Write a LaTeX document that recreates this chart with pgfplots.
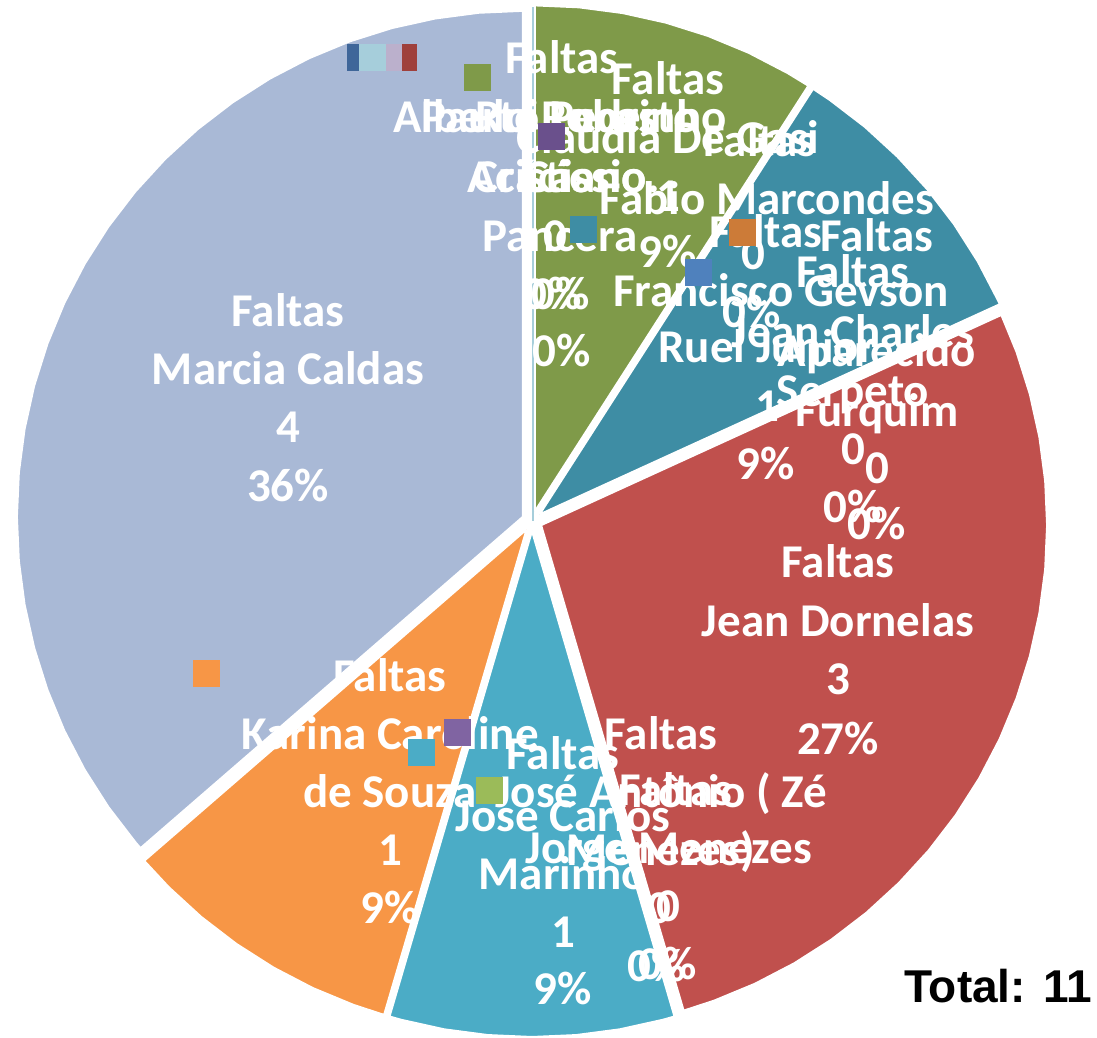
\documentclass[border=0pt]{standalone}
\usepackage{pgfplots}
\pgfplotsset{compat=1.18}
\usepackage{fontspec}
\setmainfont{Carlito}
\newfontfamily\arialfont{Liberation Sans}
\definecolor{lav}{HTML}{A9B9D6}
\definecolor{grn}{HTML}{7F9A49}
\definecolor{tea}{HTML}{3E8DA4}
\definecolor{red1}{HTML}{C0504D}
\definecolor{cya}{HTML}{4BACC6}
\definecolor{ora}{HTML}{F79646}
\definecolor{kDB}{HTML}{3F6699}
\definecolor{kLB}{HTML}{A6CEDB}
\definecolor{kLP}{HTML}{BBB0CC}
\definecolor{kRD}{HTML}{9F403C}
\definecolor{kPU}{HTML}{6A508C}
\definecolor{kDO}{HTML}{CC7B38}
\definecolor{kBL}{HTML}{4F81BD}
\definecolor{kP2}{HTML}{8064A2}
\definecolor{kLI}{HTML}{9BBB59}
\tikzset{lbl/.style={text=white,font=\bfseries\fontsize{23.5}{28}\selectfont,inner sep=0pt,anchor=base}}
\newcommand{\T}[3]{\node[lbl] at (axis cs:#1,#2) {#3};}
\newcommand{\TW}[3]{\node[lbl,anchor=base west] at (axis cs:#1,#2) {#3};}
\newcommand{\TE}[3]{\node[lbl,anchor=base east] at (axis cs:#1,#2) {#3};}
\newcommand{\key}[3]{\addplot[only marks,color=#1,mark=square*,mark size=6.5pt,mark options={solid,draw=#1,fill=#1,line width=0.5pt}] coordinates {(#2,#3)};}
% Faltas: Claudia De Gasi 1, Ruel Junior 1, Jean Dornelas 3, Jose Carlos Marinho 1,
% Karina Caroline de Souza 1, Marcia Caldas 4 (others 0); total 11 -> 32.727 deg per unit
\begin{document}
\begin{tikzpicture}
\begin{axis}[x=0.5pt,y=0.5pt,xmin=-532,xmax=565,ymin=-517,ymax=521,hide axis,clip=false]
\addplot[draw=none,forget plot] coordinates {(-532,-517) (565,521)};
% green (Claudia De Gasi, 1)
\addplot[data cs=polar,fill=grn,draw=white,line width=1pt,xshift=1.41pt,yshift=4.80pt] coordinates {(0,0) (90,506) (85,506) (80,506) (75,506) (70,506) (65,506) (60,506) (57.27,506) (0,0)};
% teal (Ruel Junior, 1)
\addplot[data cs=polar,fill=tea,draw=white,line width=1pt,xshift=3.78pt,yshift=3.27pt] coordinates {(0,0) (57.27,506) (55,506) (50,506) (45,506) (40,506) (35,506) (30,506) (25,506) (24.55,506) (0,0)};
% red (Jean Dornelas, 3)
\addplot[data cs=polar,fill=red1,draw=white,line width=1pt,xshift=4.55pt,yshift=-2.08pt] coordinates {(0,0) (24.55,506) (20,506) (15,506) (10,506) (5,506) (0,506) (-5,506) (-10,506) (-15,506) (-20,506) (-25,506) (-30,506) (-35,506) (-40,506) (-45,506) (-50,506) (-55,506) (-60,506) (-65,506) (-70,506) (-73.64,506) (0,0)};
% cyan (Jose Carlos Marinho, 1)
\addplot[data cs=polar,fill=cya,draw=white,line width=1pt,yshift=-5pt] coordinates {(0,0) (-73.64,506) (-75,506) (-80,506) (-85,506) (-90,506) (-95,506) (-100,506) (-105,506) (-106.36,506) (0,0)};
% orange (Karina Caroline de Souza, 1)
\addplot[data cs=polar,fill=ora,draw=white,line width=1pt,xshift=-2.70pt,yshift=-4.21pt] coordinates {(0,0) (-106.36,506) (-110,506) (-115,506) (-120,506) (-125,506) (-130,506) (-135,506) (-139.09,506) (0,0)};
% lavender (Marcia Caldas, 4)
\addplot[data cs=polar,fill=lav,draw=white,line width=1pt,xshift=-4.55pt,yshift=2.08pt] coordinates {(0,0) (-139.09,506) (-140,506) (-145,506) (-150,506) (-155,506) (-160,506) (-165,506) (-170,506) (-175,506) (-180,506) (-185,506) (-190,506) (-195,506) (-200,506) (-205,506) (-210,506) (-215,506) (-220,506) (-225,506) (-230,506) (-235,506) (-240,506) (-245,506) (-250,506) (-255,506) (-260,506) (-265,506) (-270,506) (0,0)};
% zero-value slice line at the top
\addplot[color=kLB,line width=0.6pt] coordinates {(1,0) (1,514)};
% main labels
\T{-244}{194}{Faltas} \T{-244}{136}{Marcia Caldas} \T{-244}{78}{4} \T{-244}{19}{36\%}
\T{306}{-57}{Faltas} \T{306}{-116}{Jean Dornelas} \T{306}{-174}{3} \T{306}{-234}{27\%}
\T{-142}{-171}{Faltas} \T{-142}{-229}{Karina Caroline} \T{-142}{-287}{de Souza} \T{-142}{-345}{1} \T{-142}{-403}{9\%}
\T{31}{-249}{Faltas} \T{31}{-311}{Jose Carlos} \T{31}{-369}{Marinho} \T{31}{-427}{1} \T{31}{-484}{9\%}
\T{136}{426}{Faltas} \T{136}{367}{Claudia De Gasi} \T{136}{309}{1} \T{136}{253}{9\%}
% teal area
\T{228}{364}{Faltas} \T{235}{306}{Fabio Marcondes} \T{221}{251}{0} \T{220}{193}{0\%}
\T{234}{273}{Faltas} \T{249}{214}{Francisco Gevson} \T{235}{158}{Ruel Junior} \T{235}{99}{1} \T{234}{41}{9\%}
\T{321}{233}{Faltas} \T{321}{173}{Jean Charles} \T{321}{114}{Serpeto} \T{321}{56}{0} \T{321}{-2}{0\%}
\T{345}{269}{Faltas} \T{345}{154}{Aparecido} \T{345}{94}{Furquim} \T{345}{37}{0} \T{345}{-19}{0\%}
% top cluster of zero-value labels
\T{30}{447}{Faltas}
\TW{-139}{388}{Alberto Lucas} \TE{195}{388}{Rui Pedrinho} \T{28}{388}{Paulo Roberto}
\TW{-65}{328}{Acácio} \T{28}{328}{Cristiano} \TE{128}{328}{Cássio.}
\T{28}{269}{Pancera} \T{23}{269}{0} \T{21}{211}{0\%} \T{29}{211}{0\%} \T{30}{154}{0\%}
% bottom zero-value labels
\T{129}{-229}{Faltas} \T{129}{-287}{José Antônio ( Zé} \T{129}{-345}{Menezes)} \T{127}{-403}{0} \T{125}{-461}{0\%}
\T{144}{-285}{Faltas} \T{137}{-343}{Jorge Menezes} \T{136}{-401}{0} \T{136}{-459}{0\%}
% legend keys of the data labels
\key{kDB}{-171.5}{463.5} \key{kLB}{-159.5}{463.5} \key{kLP}{-132.5}{463.5} \key{kRD}{-116.5}{463.5} \key{lav}{-101.5}{463.5}
\key{grn}{-55}{443.5} \key{kPU}{19.5}{384.5} \key{tea}{51.5}{291.5} \key{kDO}{210.5}{288.5} \key{kBL}{166.5}{248.5}
\key{ora}{-325.5}{-152.5} \key{kP2}{-74.5}{-211.5} \key{cya}{-110.5}{-231.5} \key{kLI}{-42.5}{-270}
\node[font=\arialfont\bfseries\fontsize{23}{27}\selectfont,text=black,inner sep=0pt] at (axis cs:466,-465) {Total: 11};
\end{axis}
\end{tikzpicture}
\end{document}
